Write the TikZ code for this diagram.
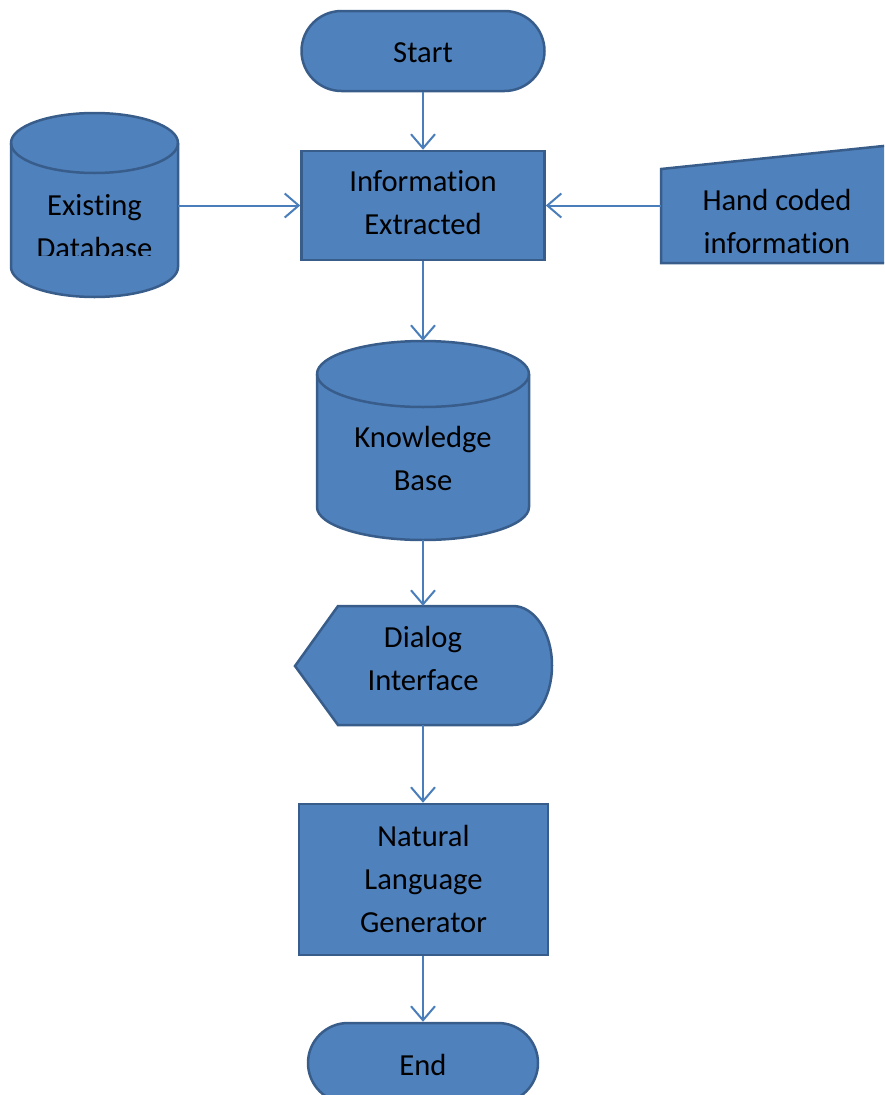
\documentclass[tikz,border=0pt]{standalone}
\usepackage{fontspec}
\setmainfont{Carlito}[Ligatures={NoCommon}]
\usetikzlibrary{arrows.meta}
\definecolor{fillblue}{HTML}{4F81BD}
\definecolor{edgeblue}{HTML}{385D8A}
\definecolor{arrowblue}{HTML}{4A7EBB}
\tikzset{
  flow/.style={fill=fillblue, draw=edgeblue, line width=2.5pt},
  terminal/.style={flow, rectangle, rounded corners=40pt, minimum height=80pt},
  txt/.style={font=\fontsize{30.6}{43}\selectfont, align=center, text=black, inner sep=0pt},
  bbox/.style={draw=none, inner sep=0pt},
  conn/.style={draw=arrowblue, line width=2pt, -{Straight Barb[length=14pt,width=24pt]}}
}
\begin{document}
\begin{tikzpicture}[x=1pt,y=1pt]
\useasboundingbox (0,0) rectangle (884,-1095);
\clip (0,0) rectangle (884,-1095);

% Start
\node[terminal, minimum width=243pt] (start) at (423,-51) {};
\node[txt] (starttext) at (423,-53) {Start};

% Information Extracted
\node[flow, rectangle, minimum width=243pt, minimum height=109pt] (info) at (423,-205.5) {};
\node[txt] (infotext) at (423,-202.5) {Information\\Extracted};

% Existing Database (cylinder)
\node[bbox, minimum width=167pt, minimum height=184pt] (db) at (94.5,-205.5) {};
\path[flow] (11,-143) -- (11,-267) arc (180:360:83.5 and 30) -- (178,-143) arc (0:180:83.5 and 30) -- cycle;
\draw[draw=edgeblue, line width=2.5pt] (11,-143) arc (180:360:83.5 and 30);
\begin{scope}
\clip (0,-100) rectangle (300,-255);
\node[txt] (dbtext) at (94.5,-227) {Existing\\Database};
\end{scope}

% Hand coded information (manual input)
\node[bbox, minimum width=232pt, minimum height=118pt] (hand) at (777,-204) {};
\path[flow] (661,-169) -- (893,-145) -- (893,-263) -- (661,-263) -- cycle;
\node[txt] (handtext) at (777,-221.5) {Hand coded\\information};

% Knowledge Base (cylinder)
\node[bbox, minimum width=212pt, minimum height=199pt] (kb) at (423,-440.5) {};
\path[flow] (317,-374) -- (317,-507) arc (180:360:106 and 33) -- (529,-374) arc (0:180:106 and 33) -- cycle;
\draw[draw=edgeblue, line width=2.5pt] (317,-374) arc (180:360:106 and 33);
\node[txt] (kbtext) at (423,-458.5) {Knowledge\\Base};

% Dialog Interface (display)
\node[bbox, minimum width=257pt, minimum height=119pt] (dlg) at (423.5,-665.5) {};
\path[flow] (295,-666) -- (338,-606) -- (513,-606) arc (90:-90:39 and 59.5) -- (338,-725) -- cycle;
\node[txt] (dlgtext) at (423,-658.5) {Dialog\\Interface};

% Natural Language Generator
\node[flow, rectangle, minimum width=249pt, minimum height=151pt] (nlg) at (423.5,-879.5) {};
\node[txt] (nlgtext) at (423.5,-878.5) {Natural\\Language\\Generator};

% End
\node[terminal, minimum width=230pt] (end) at (423,-1063) {};
\node[txt] (endtext) at (423,-1065) {End};

% Connectors
\draw[conn] (start.south) -- (info.north);
\draw[conn] (db.east) -- (info.west);
\draw[conn] (hand.west |- info.east) -- (info.east);
\draw[conn] (info.south) -- (kb.north);
\draw[conn] (kb.south) -- (dlg.north -| kb.south);
\draw[conn] (dlg.south -| kb.south) -- (nlg.north -| kb.south);
\draw[conn] (nlg.south -| kb.south) -- (end.north -| kb.south);
\end{tikzpicture}
\end{document}
